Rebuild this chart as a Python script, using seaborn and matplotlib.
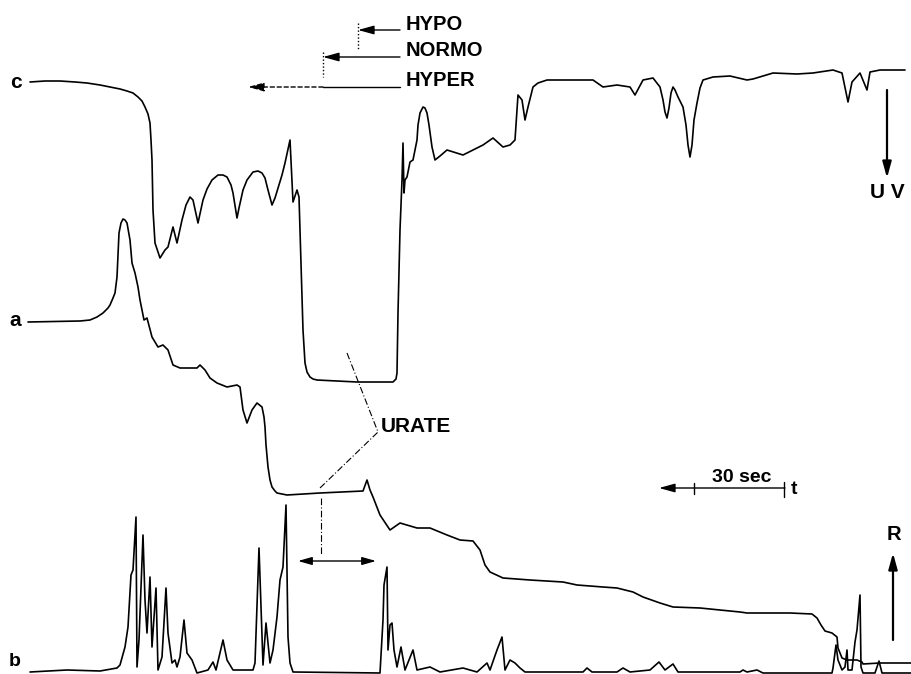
import matplotlib
matplotlib.use("Agg")
import matplotlib.pyplot as plt
import seaborn as sns
import pandas as pd

sns.set_theme(style="white")
plt.rcParams["font.family"] = ["Liberation Sans", "DejaVu Sans"]
plt.rcParams["font.weight"] = "bold"

# Recorder traces: chart position (time axis) and pen deflection measured
# downward from the top of the chart strip.
c_time = [30, 45, 60, 75, 87, 100, 110, 120, 127, 133, 138, 142, 145, 148, 150, 151, 152,
          153, 155, 160, 165, 168, 173, 177, 182, 186, 190, 193, 198, 203, 207, 212, 218,
          223, 227, 231, 233, 236, 237, 239, 243, 247, 253, 258, 262, 265, 268, 272, 275,
          278, 282, 285, 290, 293, 297, 299, 300, 302, 303, 305, 307, 310, 313, 317, 357,
          393, 396, 397, 398, 400, 402, 403, 404, 405, 407, 410, 413, 417, 418, 420, 423,
          425, 427, 429, 432, 435, 440, 447, 463, 483, 493, 503, 510, 515, 518, 522, 525,
          528, 533, 538, 547, 593, 603, 617, 630, 635, 643, 653, 660, 663, 665, 667, 669,
          671, 673, 675, 678, 683, 686, 688, 690, 692, 694, 697, 700, 703, 713, 730, 747,
          753, 773, 797, 813, 833, 842, 848, 852, 860, 867, 870, 880, 905]
c_signal = [82, 81, 81, 82, 83, 85, 87, 89, 91, 93, 97, 101, 107, 114, 123, 140, 160,
            210, 243, 258, 250, 247, 227, 243, 220, 205, 197, 200, 223, 200, 189, 180, 175,
            175, 177, 185, 193, 212, 218, 208, 190, 180, 172, 171, 173, 178, 190, 205, 198,
            188, 175, 163, 140, 202, 190, 197, 230, 293, 330, 363, 372, 377, 379, 380, 382,
            382, 379, 373, 313, 230, 180, 143, 193, 180, 177, 162, 160, 140, 125, 113, 107,
            108, 113, 125, 147, 160, 156, 150, 155, 145, 138, 147, 145, 140, 95, 100, 120,
            107, 87, 83, 80, 80, 87, 85, 87, 95, 80, 78, 87, 100, 112, 118, 108,
            93, 87, 90, 97, 107, 125, 145, 157, 145, 120, 103, 88, 80, 77, 76, 80,
            79, 73, 74, 73, 70, 73, 102, 82, 73, 90, 72, 70, 70]

a_time = [28, 80, 90, 97, 103, 108, 110, 113, 115, 117, 118, 119, 121, 123, 125, 127, 130,
          132, 135, 138, 140, 144, 147, 152, 158, 163, 168, 173, 180, 197, 200, 205, 210,
          217, 227, 237, 240, 243, 247, 252, 257, 262, 264, 265, 266, 268, 270, 272, 275,
          277, 282, 287, 320, 363, 367, 370, 373, 380, 390, 400, 417, 430, 447, 460, 473,
          480, 485, 490, 503, 530, 563, 577, 603, 617, 633, 643, 660, 673, 700, 740, 747,
          790, 812, 817, 821, 825, 832, 837, 838, 842, 847, 857, 862, 863, 880, 912]
a_signal = [322, 321, 320, 317, 313, 308, 305, 298, 293, 277, 255, 233, 223, 219, 220, 223, 240,
            263, 273, 287, 300, 320, 318, 337, 347, 345, 350, 365, 368, 368, 365, 370, 378,
            383, 387, 385, 387, 410, 423, 410, 403, 407, 417, 427, 445, 467, 480, 487, 491,
            493, 494, 495, 493, 491, 480, 490, 497, 515, 530, 523, 528, 528, 535, 540, 541,
            550, 565, 572, 578, 580, 582, 585, 587, 588, 592, 597, 603, 607, 608, 612, 613,
            613, 614, 618, 625, 631, 633, 637, 648, 658, 660, 660, 662, 664, 663, 663]

b_time = [30, 67, 100, 117, 120, 125, 128, 131, 133, 136, 137, 139, 143, 145, 147, 150, 152,
          156, 158, 162, 166, 168, 172, 175, 177, 180, 184, 187, 192, 197, 208, 213, 216,
          223, 227, 233, 253, 255, 259, 263, 266, 270, 273, 277, 280, 283, 286, 288, 290,
          293, 380, 383, 384, 387, 388, 390, 392, 394, 397, 401, 405, 413, 417, 430, 440,
          463, 477, 487, 490, 497, 502, 505, 510, 515, 520, 525, 583, 587, 592, 617, 623,
          630, 650, 659, 665, 673, 678, 693, 740, 743, 747, 757, 763, 832, 833, 836, 838,
          842, 845, 847, 848, 852, 855, 857, 860, 861, 863, 875, 879, 882, 912]
b_signal = [672, 670, 671, 668, 665, 647, 627, 575, 570, 517, 667, 640, 535, 600, 633, 577, 647,
            588, 670, 657, 588, 633, 663, 660, 667, 657, 620, 653, 660, 673, 670, 662, 670,
            640, 660, 670, 670, 663, 548, 665, 623, 663, 650, 617, 580, 567, 505, 637, 663,
            672, 673, 620, 585, 567, 650, 625, 623, 650, 667, 647, 670, 650, 670, 667, 672,
            668, 672, 663, 670, 650, 637, 670, 660, 663, 668, 672, 672, 668, 672, 672, 668,
            672, 670, 662, 670, 664, 672, 672, 672, 670, 672, 670, 673, 673, 668, 645, 660,
            670, 667, 650, 670, 670, 642, 630, 595, 667, 673, 673, 661, 673, 673]

trace_names = ["c", "a", "b"]

frames = []
for name, t, s in zip(trace_names, [c_time, a_time, b_time], [c_signal, a_signal, b_signal]):
    frames.append(pd.DataFrame({"time": t, "signal": s, "trace": name}))
df = pd.concat(frames, ignore_index=True)

fig = plt.figure(figsize=(9.12, 6.74), dpi=100)
ax = fig.add_axes([0, 0, 1, 1])

for name in trace_names:
    sub = df[df["trace"] == name]
    sns.lineplot(data=sub, x="time", y="signal", sort=False, estimator=None,
                 color="black", linewidth=1.2, ax=ax,
                 solid_joinstyle="round", solid_capstyle="round")

ax.set_xlim(0, 912)
ax.set_ylim(674, 0)
ax.axis("off")

txt = dict(color="black", fontweight="bold")

# trace labels
ax.text(16, 82, "c", ha="center", va="center", fontsize=15, **txt)
ax.text(15, 320, "a", ha="center", va="center", fontsize=15, **txt)
ax.text(15, 662, "b", ha="center", va="center", fontsize=14, **txt)

# HYPO / NORMO / HYPER markers
head = dict(arrowstyle="-|>,head_length=0.8,head_width=0.22", color="black", lw=1.0,
            shrinkA=0, shrinkB=0)
ax.text(406, 25, "HYPO", ha="left", va="center", fontsize=14.5, **txt)
ax.text(406, 51, "NORMO", ha="left", va="center", fontsize=14.5, **txt)
ax.text(406, 81, "HYPER", ha="left", va="center", fontsize=14.5, **txt)
ax.annotate("", xy=(358, 30), xytext=(400, 30), arrowprops=head)
ax.plot([358, 358], [23, 50], color="black", lw=1.0, ls=(0, (1, 1.5)))
ax.annotate("", xy=(323, 57), xytext=(400, 57), arrowprops=head)
ax.plot([323, 323], [52, 77], color="black", lw=1.0, ls=(0, (1, 1.5)))
ax.plot([323, 400], [87, 87], color="black", lw=1.0)
ax.annotate("", xy=(248, 87), xytext=(323, 87),
            arrowprops=dict(head, linestyle=(0, (3, 2))))

# UV arrow
ax.annotate("", xy=(887, 178), xytext=(887, 90), arrowprops=dict(head, lw=1.6))
ax.text(887, 193, "U V", ha="center", va="center", fontsize=15, **txt)

# URATE leader lines
ax.plot([347, 378, 320], [353, 432, 488], color="black", lw=0.8, ls=(0, (6, 2, 1, 2)))
ax.plot([321, 321], [498, 555], color="black", lw=0.8, ls=(0, (6, 2, 1, 2)))
ax.text(381, 427, "URATE", ha="left", va="center", fontsize=15, **txt)
ax.annotate("", xy=(298, 561), xytext=(376, 561),
            arrowprops=dict(arrowstyle="<|-|>,head_length=0.7,head_width=0.2",
                            color="black", lw=1.0, shrinkA=0, shrinkB=0))

# time scale
ax.annotate("", xy=(659, 488), xytext=(785, 488), arrowprops=head)
ax.plot([694, 694], [483, 494], color="black", lw=1.0)
ax.plot([784, 784], [482, 497], color="black", lw=1.0)
ax.text(742, 477, "30 sec", ha="center", va="center", fontsize=14, **txt)
ax.text(794, 490, "t", ha="center", va="center", fontsize=14, **txt)

# R arrow
ax.annotate("", xy=(893, 553), xytext=(893, 640), arrowprops=dict(head, lw=1.6))
ax.text(894, 535, "R", ha="center", va="center", fontsize=14.5, **txt)

fig.savefig("out.png", dpi=100, facecolor="white")
